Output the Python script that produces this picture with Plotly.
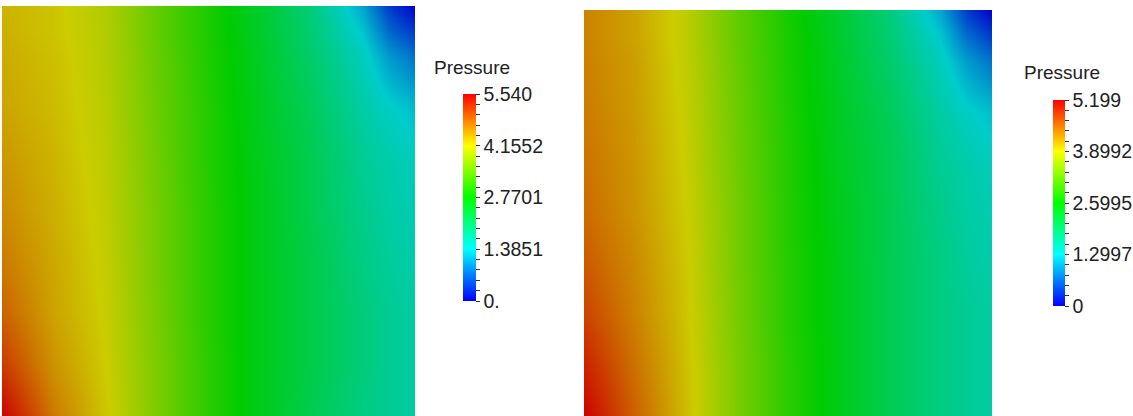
import plotly.graph_objects as go

# grid coordinates (normalized domain), rows from bottom to top
xs = [0, 0.125, 0.25, 0.375, 0.5, 0.625, 0.75, 0.875, 0.9375, 1.0]
ys = [0, 0.125, 0.25, 0.375, 0.5, 0.625, 0.75, 0.875, 0.9375, 1.0]

left_pressure = [
    [5.54, 4.71, 4.21, 3.60, 3.05, 2.60, 2.22, 1.88, 1.77, 1.66],
    [5.15, 4.54, 4.16, 3.60, 3.05, 2.60, 2.27, 1.94, 1.77, 1.66],
    [4.88, 4.43, 4.13, 3.57, 3.02, 2.60, 2.27, 1.94, 1.77, 1.66],
    [4.71, 4.40, 4.10, 3.55, 3.02, 2.60, 2.27, 1.88, 1.72, 1.61],
    [4.60, 4.35, 4.07, 3.55, 3.02, 2.60, 2.22, 1.83, 1.66, 1.55],
    [4.52, 4.32, 4.04, 3.52, 2.99, 2.58, 2.22, 1.77, 1.61, 1.50],
    [4.43, 4.27, 4.02, 3.49, 2.99, 2.55, 2.16, 1.66, 1.44, 1.27],
    [4.38, 4.24, 3.99, 3.46, 2.96, 2.52, 2.05, 1.50, 1.05, 0.78],
    [4.35, 4.21, 3.99, 3.43, 2.94, 2.49, 1.99, 1.33, 0.72, 0.39],
    [4.32, 4.21, 3.96, 3.43, 2.94, 2.47, 1.94, 1.11, 0.39, 0.00],
]

right_pressure = [
    [5.20, 4.58, 4.00, 3.38, 2.86, 2.44, 2.08, 1.77, 1.66, 1.56],
    [4.99, 4.47, 3.98, 3.38, 2.86, 2.44, 2.08, 1.77, 1.66, 1.56],
    [4.78, 4.37, 3.95, 3.35, 2.83, 2.44, 2.08, 1.77, 1.66, 1.56],
    [4.63, 4.32, 3.93, 3.33, 2.83, 2.44, 2.08, 1.77, 1.61, 1.51],
    [4.52, 4.26, 3.90, 3.33, 2.81, 2.42, 2.08, 1.72, 1.56, 1.46],
    [4.47, 4.24, 3.87, 3.30, 2.81, 2.39, 2.08, 1.66, 1.51, 1.40],
    [4.42, 4.21, 3.85, 3.28, 2.78, 2.37, 2.03, 1.56, 1.35, 1.20],
    [4.39, 4.19, 3.82, 3.25, 2.76, 2.34, 1.92, 1.40, 0.99, 0.73],
    [4.37, 4.16, 3.80, 3.22, 2.76, 2.31, 1.87, 1.25, 0.68, 0.36],
    [4.37, 4.16, 3.80, 3.22, 2.73, 2.29, 1.82, 1.04, 0.36, 0.00],
]

left_max = 5.540
right_max = 5.199
left_tick_labels = ["0.", "1.3851", "2.7701", "4.1552", "5.540"]
right_tick_labels = ["0", "1.2997", "2.5995", "3.8992", "5.199"]

W, H = 1133, 416

shaded = [[0.0, "rgb(0,0,204)"], [0.25, "rgb(0,204,204)"], [0.5, "rgb(0,204,0)"],
          [0.75, "rgb(204,204,0)"], [1.0, "rgb(204,0,0)"]]
bright = [[0.0, "rgb(0,0,255)"], [0.25, "rgb(0,255,255)"], [0.5, "rgb(0,255,0)"],
          [0.75, "rgb(255,255,0)"], [1.0, "rgb(255,0,0)"]]

FONT = "Liberation Sans, Arial, sans-serif"


def ticks(vmax, labels):
    vals, texts = [], []
    for i in range(21):
        vals.append(vmax * i / 20)
        texts.append(labels[i // 5] if i % 5 == 0 else "")
    return vals, texts


fig = go.Figure()

panels = [
    (left_pressure, left_max, left_tick_labels, "x", "y", 463, 13, 94, 301, 432, 67),
    (right_pressure, right_max, right_tick_labels, "x2", "y2", 1053, 12, 100, 306, 1022, 72),
]

for z, vmax, labels, xa, ya, bx, bt, btop, bbot, tx, ty in panels:
    fig.add_trace(go.Heatmap(
        x=xs, y=ys, z=z, zmin=0, zmax=vmax, colorscale=shaded,
        zsmooth="best", showscale=False, xaxis=xa, yaxis=ya, hoverinfo="skip",
    ))
    tv, tt = ticks(vmax, labels)
    fig.add_trace(go.Scatter(
        x=[-10, -10], y=[-10, -10], mode="markers", xaxis=xa, yaxis=ya,
        hoverinfo="skip", showlegend=False,
        marker=dict(color=[0, vmax], cmin=0, cmax=vmax, colorscale=bright,
                    showscale=True,
                    colorbar=dict(
                        x=bx / W, xanchor="left", xref="paper",
                        y=1 - (btop + bbot) / 2 / H, yanchor="middle",
                        lenmode="pixels", len=bbot - btop,
                        thickness=bt, thicknessmode="pixels",
                        outlinewidth=0, xpad=0, ypad=0,
                        tickmode="array", tickvals=tv, ticktext=tt,
                        ticks="outside", ticklen=4, tickwidth=1, tickcolor="#333333",
                        tickfont=dict(family=FONT, size=19.5, color="#222222"),
                    )),
    ))
    fig.add_annotation(
        x=tx / W, y=1 - ty / H, xref="paper", yref="paper",
        xanchor="left", yanchor="middle", showarrow=False,
        text="Pressure", font=dict(family=FONT, size=19, color="#222222"),
    )

axis_common = dict(visible=False, range=[0, 1], fixedrange=True)
fig.update_layout(
    width=W, height=H,
    margin=dict(l=0, r=0, t=0, b=0),
    paper_bgcolor="white", plot_bgcolor="white",
    showlegend=False,
    xaxis=dict(domain=[2 / W, 415 / W], **axis_common),
    yaxis=dict(domain=[0, 1 - 6 / H], **axis_common),
    xaxis2=dict(domain=[584 / W, 992 / W], **axis_common),
    yaxis2=dict(domain=[0, 1 - 10 / H], **axis_common),
)

fig.write_html("out.html")
